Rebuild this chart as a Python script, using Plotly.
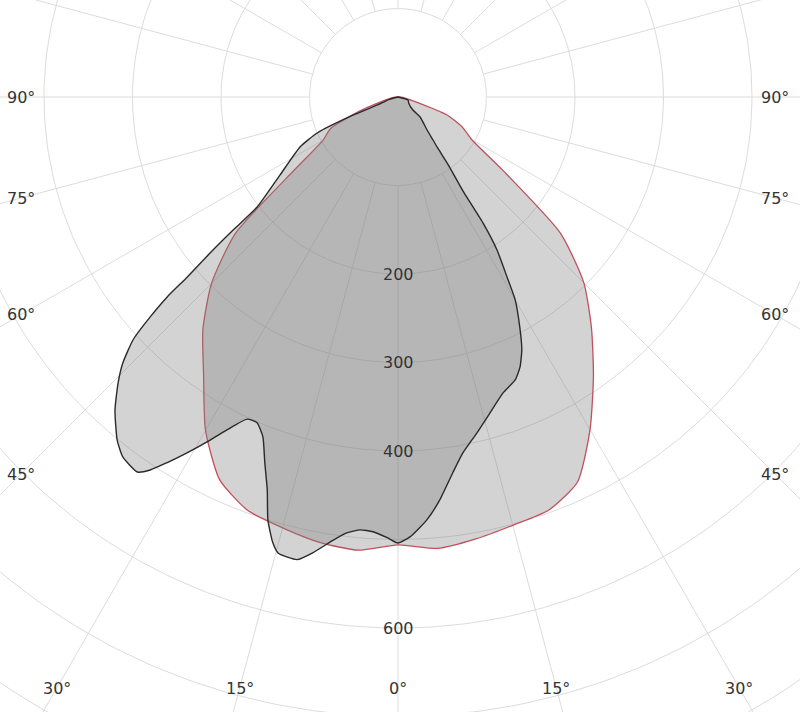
import numpy as np
import plotly.graph_objects as go

# ---- data (gamma angle in degrees, 0 = straight down, negative = left half) ----
red_angles = [-90, -85, -80, -75, -70, -65, -60, -55, -50, -45, -40, -35, -30, -25, -20, -15, -10, -5,
              0, 5, 10, 15, 20, 25, 30, 35, 40, 45, 50, 55, 60, 65, 70, 75, 80, 85, 90]
red_values = [0, 5, 9, 18, 45, 84, 98, 141, 240, 298, 343, 383, 435, 477, 497, 504, 511, 514,
              506, 512, 507, 501, 497, 480, 434, 385, 340, 297, 240, 145, 96, 80, 58, 20, 9, 5, 0]

black_angles = [-90, -75, -69, -68, -66, -63, -56.5, -52, -51.1, -50.3, -49.5, -49.1,
                -48.4, -47.5, -46, -44.4, -42.1, -39.3, -37.4, -34.8, -33.6, -32.3, -30.7, -28.7,
                -27.2, -25.1, -23.4, -21.7, -20, -18.4, -17.1, -15.7, -14.7, -12.3, -10.6, -8.3,
                -6.7, -5, -3.3, -1.4, 0, 1.6, 3.9, 5.9, 8.3, 10.3, 13.2, 16.2, 19.5, 22.5, 24.3,
                26.1, 27.9, 30, 31.2, 32.9, 34, 34.6, 36.5, 38, 39.1, 41.3, 47.7, 49.1, 60, 73, 90]
black_values = [0, 10, 25, 55, 100, 124, 160, 202, 239, 276, 313, 345,
                375, 406, 432, 452, 477, 501, 512, 516, 506, 489, 468, 442,
                423, 402, 401, 413, 440, 468, 500, 523, 533, 535, 524, 506,
                496, 491, 492, 498, 504, 497, 479, 458, 429, 409, 390, 372, 355, 346, 335,
                318, 294, 265, 238, 206, 172, 131, 96, 72, 63, 50, 34, 22, 14, 12, 0]

ring_values = [100, 200, 300, 400, 500, 600, 700, 800, 900, 1000]
ring_labels = [200, 300, 400, 600]
spoke_angles = list(range(0, 360, 15))
side_label_angles = [90, 75, 60, 45]
bottom_label_angles = [-30, -15, 0, 15, 30]


def to_xy(angles, values):
    a = np.radians(np.asarray(angles, dtype=float))
    v = np.asarray(values, dtype=float)
    return v * np.sin(a), -v * np.cos(a)


GRID = "#dcdcdc"
fig = go.Figure()

# rings
t = np.linspace(0, 360, 361)
for r in ring_values:
    x, y = to_xy(t, [r] * len(t))
    fig.add_trace(go.Scatter(x=x, y=y, mode="lines", line=dict(color=GRID, width=1),
                             hoverinfo="skip", showlegend=False))
# spokes
for a in spoke_angles:
    x, y = to_xy([a, a], [100, 1200])
    fig.add_trace(go.Scatter(x=x, y=y, mode="lines", line=dict(color=GRID, width=1),
                             hoverinfo="skip", showlegend=False))

# curves
x, y = to_xy(red_angles, red_values)
fig.add_trace(go.Scatter(x=np.append(x, x[0]), y=np.append(y, y[0]), mode="lines", fill="toself",
                         fillcolor="rgba(128,128,128,0.35)",
                         line=dict(color="#c0505c", width=1.3, shape="spline", smoothing=0.6),
                         showlegend=False, name="C0-C180"))
x, y = to_xy(black_angles, black_values)
fig.add_trace(go.Scatter(x=np.append(x, x[0]), y=np.append(y, y[0]), mode="lines", fill="toself",
                         fillcolor="rgba(128,128,128,0.35)",
                         line=dict(color="#2a2a2a", width=1.4, shape="spline", smoothing=0.5),
                         showlegend=False, name="C90-C270"))

SCALE = 0.885  # px per unit
CX, CY = 398, 97
W, H = 800, 712
xr = [-CX / SCALE, (W - CX) / SCALE]
yr = [-(H - CY) / SCALE, CY / SCALE]

font = dict(family="DejaVu Sans, Verdana, sans-serif", size=16, color="#333333")
ann = []
for r in ring_labels:
    ann.append(dict(x=0, y=-r, text=str(r), showarrow=False, font=font,
                    xanchor="center", yanchor="middle"))
side_x = (CX - 21) / SCALE
for a in side_label_angles:
    rr = side_x / np.sin(np.radians(a))
    for s in (-1, 1):
        x0, y0 = to_xy([s * a], [rr])
        ann.append(dict(x=float(x0[0]), y=float(y0[0]), text=f"{a}°", showarrow=False, font=font,
                        xanchor="center", yanchor="middle"))
bottom_y = (688 - CY) / SCALE
for a in bottom_label_angles:
    rr = bottom_y / np.cos(np.radians(a))
    x0, y0 = to_xy([a], [rr])
    ann.append(dict(x=float(x0[0]), y=float(y0[0]), text=f"{abs(a)}°", showarrow=False, font=font,
                    xanchor="center", yanchor="middle"))

fig.update_layout(
    width=W, height=H, margin=dict(l=0, r=0, t=0, b=0),
    paper_bgcolor="white", plot_bgcolor="white",
    xaxis=dict(range=xr, visible=False, fixedrange=True),
    yaxis=dict(range=yr, visible=False, fixedrange=True),
    annotations=ann, showlegend=False,
)
fig.write_html("out.html", config={"displayModeBar": False},
               post_script="document.body.style.margin='0';document.body.style.overflow='hidden';")
